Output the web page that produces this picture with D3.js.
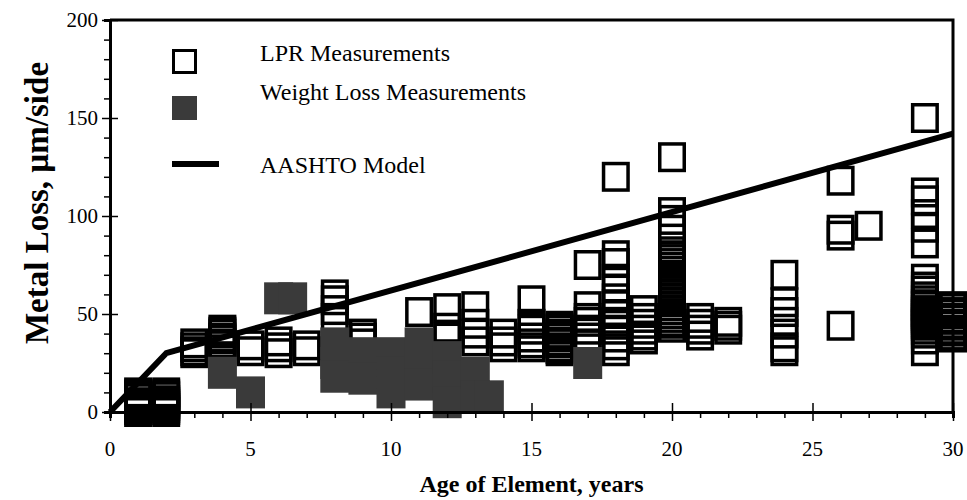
<!DOCTYPE html>
<html>
<head>
<meta charset="utf-8">
<script src="https://cdn.jsdelivr.net/npm/d3@7"></script>
<style>
	body { margin: 0; background: #fff; }
	svg { display: block; font-family: "Liberation Serif", "Times New Roman", serif; }
</style>
</head>
<body>
<svg id="chart"></svg>
<script>
// LPR measurements, grouped by element age (years) -> metal loss (um/side)
const lprAges = [1, 2, 3, 4, 5, 6, 7, 8, 9, 11, 12, 13, 14, 15, 16, 17, 18, 19, 20, 21, 22, 24, 26, 27, 29, 30];
const lprLosses = [
	[10, 9, 8, 7, 5, 4, 3, 2, 1, 0],
	[10, 9, 8, 6, 5, 4, 3, 2, 1, 0],
	[35, 33, 31, 30],
	[42, 41, 40, 38, 37, 35, 34, 32],
	[34, 31],
	[36, 33, 30],
	[34, 31],
	[60, 57, 52, 48],
	[40, 38, 35],
	[51],
	[53, 43, 38],
	[54, 45, 40, 36],
	[40, 36, 33],
	[57, 45, 42, 38, 35, 33],
	[44, 43, 42, 40, 39, 38, 36, 35, 33, 32, 31],
	[75, 54, 48, 46, 42, 38, 35],
	[120, 80, 76, 68, 63, 58, 55, 50, 46, 42, 38, 34, 31],
	[52, 48, 45, 42, 39, 37],
	[130, 102, 98, 93, 82, 80, 78, 76, 74, 72, 70, 68, 66, 64, 62, 60, 58, 56, 54, 52, 50, 48, 46, 45, 43],
	[48, 45, 42, 39],
	[46, 44, 42],
	[70, 56, 51, 46, 40, 33, 31],
	[118, 93, 90, 44],
	[95],
	[150, 112, 108, 101, 94, 86, 68, 64, 62, 59, 57, 55, 54, 52, 51, 50, 49, 48, 47, 46, 45, 44, 42, 40, 37, 31],
	[54, 53, 51, 50, 48, 47, 45, 44, 42, 41, 39, 38]
];

// weight loss measurements
const wlAge = [4, 5, 6, 6.5, 8, 8, 8, 9, 9, 10, 10, 10, 11, 11, 11, 12, 12, 12, 13, 13, 13.5, 17];
const wlLoss = [20, 10, 58, 58, 35, 25, 18, 30, 17, 30, 20, 10, 35, 25, 14, 28, 18, 5, 20, 8, 8, 25];

// AASHTO model
const modelAge = [0, 2, 30];
const modelLoss = [0, 30, 142];

const xTicks = [0, 5, 10, 15, 20, 25, 30];
const yTicks = [0, 50, 100, 150, 200];

const w = 967, h = 500;
const plotL = 110, plotR = 953, plotT = 20, plotB = 412;

const svg = d3.select("#chart").attr("width", w).attr("height", h);

const x = d3.scaleLinear().domain([0, 30]).range([plotL, plotR]);
const y = d3.scaleLinear().domain([0, 200]).range([plotB, plotT]);

// flatten LPR table into points
const lpr = [];
lprAges.forEach((a, i) => lprLosses[i].forEach((v) => lpr.push([a, v])));
const wl = wlAge.map((a, i) => [a, wlLoss[i]]);

// frame (top and right lines)
svg.append("path")
	.attr("d", `M${plotL},${plotT}H${plotR}V${plotB}`)
	.attr("fill", "none")
	.attr("stroke", "#000")
	.attr("stroke-width", 3);

// LPR open squares
const mw = 24.5, mh = 26.5;
svg.append("g")
	.selectAll("rect")
	.data(lpr)
	.enter()
	.append("rect")
	.attr("x", (d) => x(d[0]) - mw / 2)
	.attr("y", (d) => y(d[1]) - mh / 2)
	.attr("width", mw)
	.attr("height", mh)
	.attr("fill", "none")
	.attr("stroke", "#000")
	.attr("stroke-width", 3.5);

// weight loss filled squares
const gw = 29, gh = 32;
svg.append("g")
	.selectAll("rect")
	.data(wl)
	.enter()
	.append("rect")
	.attr("x", (d) => x(d[0]) - gw / 2)
	.attr("y", (d) => y(d[1]) - gh / 2)
	.attr("width", gw)
	.attr("height", gh)
	.attr("fill", "#3a3a3a");

// model line
svg.append("path")
	.datum(modelAge.map((a, i) => [a, modelLoss[i]]))
	.attr("d", d3.line().x((d) => x(d[0])).y((d) => y(d[1])))
	.attr("fill", "none")
	.attr("stroke", "#000")
	.attr("stroke-width", 6)
	.attr("stroke-linejoin", "round");

// axes
const xAxis = svg.append("g").attr("transform", `translate(0,${plotB})`);
xAxis.call(d3.axisBottom(x).tickValues(d3.range(0, 31, 1)).tickSize(6).tickFormat(""));
xAxis.selectAll(".tick")
	.filter((d) => d % 5 === 0)
	.select("line")
	.attr("y1", -9)
	.attr("y2", 9);
xAxis.select(".domain").attr("stroke-width", 3);
xAxis.selectAll(".tick line").attr("stroke-width", 1.5);
svg.append("g")
	.selectAll("text")
	.data(xTicks)
	.enter()
	.append("text")
	.attr("x", (d) => x(d))
	.attr("y", 456)
	.attr("text-anchor", "middle")
	.attr("font-size", 21)
	.text((d) => d);

const yAxis = svg.append("g").attr("transform", `translate(${plotL},0)`);
yAxis.call(d3.axisLeft(y).tickValues(d3.range(0, 201, 10)).tickSize(6).tickFormat(""));
yAxis.selectAll(".tick")
	.filter((d) => d % 50 === 0)
	.select("line")
	.attr("x1", 8)
	.attr("x2", -8);
yAxis.select(".domain").attr("stroke-width", 3);
yAxis.selectAll(".tick line").attr("stroke-width", 1.5);
svg.append("g")
	.selectAll("text")
	.data(yTicks)
	.enter()
	.append("text")
	.attr("x", 98)
	.attr("y", (d) => y(d) + 7)
	.attr("text-anchor", "end")
	.attr("font-size", 21)
	.text((d) => d);

// axis titles
svg.append("text")
	.attr("x", (plotL + plotR) / 2)
	.attr("y", 492)
	.attr("text-anchor", "middle")
	.attr("font-size", 24)
	.attr("font-weight", "bold")
	.text("Age of Element, years");
svg.append("text")
	.attr("transform", "translate(48,203) rotate(-90)")
	.attr("text-anchor", "middle")
	.attr("font-size", 33)
	.attr("font-weight", "bold")
	.text("Metal Loss, \u00b5m/side");

// legend
const legend = svg.append("g");
legend.append("rect").attr("x", 173.5).attr("y", 50.5).attr("width", 22).attr("height", 22)
	.attr("fill", "#fff").attr("stroke", "#000").attr("stroke-width", 3);
legend.append("rect").attr("x", 172).attr("y", 96).attr("width", 25).attr("height", 24)
	.attr("fill", "#3a3a3a");
legend.append("line").attr("x1", 172).attr("x2", 219).attr("y1", 164).attr("y2", 164)
	.attr("stroke", "#000").attr("stroke-width", 6);
const legText = ["LPR Measurements", "Weight Loss Measurements", "AASHTO Model"];
const legY = [61, 100, 173];
legend.selectAll("text")
	.data(legText)
	.enter()
	.append("text")
	.attr("x", 260)
	.attr("y", (d, i) => legY[i])
	.attr("font-size", 24)
	.text((d) => d);
</script>
</body>
</html>
